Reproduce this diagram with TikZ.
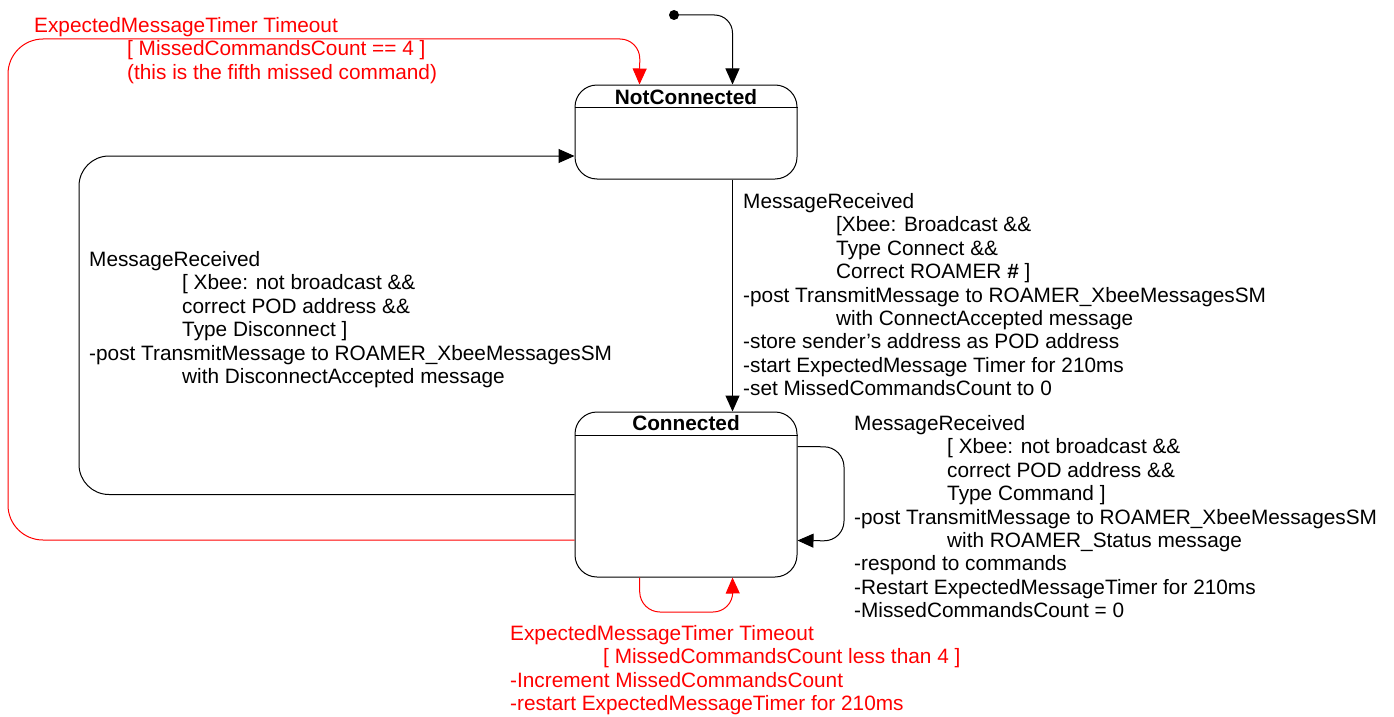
\documentclass[tikz,border=0pt]{standalone}
\usepackage{fontspec}
\setmainfont{Liberation Sans}
\usetikzlibrary{arrows.meta,calc}
\tikzset{
  statebox/.style={draw=black, line width=1pt, rounded corners=22pt, minimum width=222pt, inner sep=0pt},
  lbl/.style={anchor=north west, inner sep=0pt, align=left, font=\fontsize{20.8}{23.4}\selectfont},
  titletext/.style={font=\fontsize{20.8}{23.4}\selectfont\bfseries, inner sep=0pt},
  tr/.style={line width=1pt, -{Triangle[length=16pt,width=14pt]}},
  redtr/.style={tr, draw=red, color=red},
}
\newcommand\myind{\hspace*{93pt}}
\begin{document}
\begin{tikzpicture}[x=1pt,y=-1pt]
\useasboundingbox (0,0) rectangle (1394,717);
% states
\node[statebox, minimum height=94pt] (nc) at (686,132) {};
\draw[line width=1pt] ($(nc.north west)+(0,23)$) -- ($(nc.north east)+(0,23)$);
\node[titletext] (nct) at (686,97) {NotConnected};
\node[statebox, minimum height=165pt] (con) at (686,494.5) {};
\draw[line width=1pt] ($(con.north west)+(0,24)$) -- ($(con.north east)+(0,24)$);
\node[titletext] (cont) at (686,423) {Connected};
% initial
\node[circle, fill=black, inner sep=0pt, minimum size=10pt] (init) at (674,15) {};
\draw[tr, rounded corners=18pt] (init.center) -| ($(nc.north west)+(158,0)$);
% transitions
\draw[tr] ($(nc.south west)+(158,0)$) -- ($(con.north west)+(158,0)$);
\draw[tr, rounded corners=30pt] (con.west) -- (79,494.5) -- (79,156) -- ($(nc.west)+(0,24)$);
\draw[redtr, rounded corners=35pt] ($(con.west)+(0,45.5)$) -- (8,540) -- (8,39) [rounded corners=20pt] -- (640,39) -- ($(nc.north west)+(65,0)$);
\draw[tr, rounded corners=20pt] ($(con.north east)+(0,35)$) -- (844,447) -- (844,541) -- ($(con.north east)+(0,129)$);
\draw[redtr, rounded corners=20pt] ($(con.south west)+(65,0)$) -- (640,612) -- (733,612) -- ($(con.south west)+(158,0)$);
% labels
\node[lbl, text=red] (ltop) at (34,16) {\strut ExpectedMessageTimer Timeout\\
\myind[ MissedCommandsCount == 4 ]\\
\myind(this is the fifth missed command)};
\node[lbl] (lconn) at (743,192) {\strut MessageReceived\\
\myind[Xbee: Broadcast \&\&\\
\myind Type Connect \&\&\\
\myind Correct ROAMER \textbf{\#} ]\\
-post TransmitMessage to ROAMER\_XbeeMessagesSM\\
\myind with ConnectAccepted message\\
-store sender’s address as POD address\\
-start ExpectedMessage Timer for 210ms\\
-set MissedCommandsCount to 0};
\node[lbl] (ldisc) at (89,250) {\strut MessageReceived\\
\myind[ Xbee: not broadcast \&\&\\
\myind correct POD address \&\&\\
\myind Type Disconnect ]\\
-post TransmitMessage to ROAMER\_XbeeMessagesSM\\
\myind with DisconnectAccepted message};
\node[lbl] (lself) at (854,414) {\strut MessageReceived\\
\myind[ Xbee: not broadcast \&\&\\
\myind correct POD address \&\&\\
\myind Type Command ]\\
-post TransmitMessage to ROAMER\_XbeeMessagesSM\\
\myind with ROAMER\_Status message\\
-respond to commands\\
-Restart ExpectedMessageTimer for 210ms\\
-MissedCommandsCount = 0};
\node[lbl, text=red] (lbot) at (510,624) {\strut ExpectedMessageTimer Timeout\\
\myind[ MissedCommandsCount less than 4 ]\\
-Increment MissedCommandsCount\\
-restart ExpectedMessageTimer for 210ms};
\end{tikzpicture}
\end{document}
